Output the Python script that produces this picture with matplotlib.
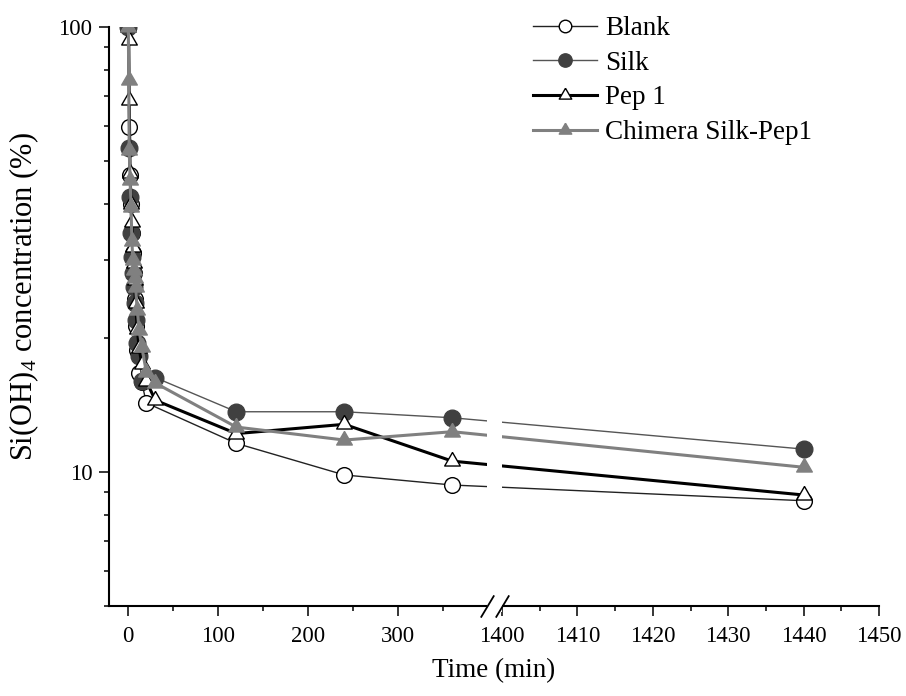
import numpy as np
import matplotlib
matplotlib.use("Agg")
import matplotlib.pyplot as plt
import matplotlib.transforms as mtransforms
from matplotlib.patches import Rectangle
from matplotlib.ticker import FixedLocator, FixedFormatter, NullFormatter

plt.rcParams['font.family'] = ['Liberation Serif', 'DejaVu Serif']
plt.rcParams['mathtext.default'] = 'regular'

# données (temps en min, concentration en %)
blank_t = [0, 1, 2, 3, 4, 5, 6, 7, 8, 10, 12, 15, 20, 120, 240, 360, 1440]
blank_v = [100, 59.5, 46.5, 40, 34.5, 31, 28, 24.5, 21.3, 18.8, 16.7, 15.9, 14.3,
           11.6, 9.85, 9.35, 8.62]

silk_t = [0, 1, 2, 3, 4, 5, 6, 7, 8, 10, 12, 15, 30, 120, 240, 360, 1440]
silk_v = [100, 53.5, 41.5, 34.4, 30.5, 28, 26, 24, 22, 19.5, 18.2, 16.0, 16.3,
          13.66, 13.66, 13.24, 11.26]

pep1_t = [0, 0.5, 1, 2, 3, 4, 5, 6, 7, 8, 10, 12, 15, 20, 30, 120, 240, 360, 1440]
pep1_v = [100, 93.5, 68.5, 47, 40, 36.5, 32, 29.5, 27, 24, 21, 19, 17.5, 16, 14.5,
          12.2, 12.8, 10.58, 8.88]

chim_t = [0, 0.5, 1, 2, 3, 4, 5, 6, 7, 8, 10, 12, 15, 20, 30, 120, 240, 360, 1440]
chim_v = [100, 76, 53, 45.3, 39.5, 33, 30, 28.4, 27.3, 26, 23.1, 20.8, 19.1, 16.8,
          15.85, 12.62, 11.8, 12.32, 10.25]

x_major = [0, 100, 200, 300, 1400, 1410, 1420, 1430, 1440, 1450]
x_minor = [50, 150, 250, 350, 1405, 1415, 1425, 1435, 1445]
y_major = [10, 100]
y_minor = [5, 6, 7, 8, 9, 20, 30, 40, 50, 60, 70, 80, 90]


# axe coupé : 0-400 min compressé, 1400-1450 min étiré
def forward(x):
    x = np.asarray(x, dtype=float)
    return np.where(x < 1000, 0.9 * x, 373.7 + 7.54 * (x - 1400))


def inverse(p):
    p = np.asarray(p, dtype=float)
    return np.where(p < 366, p / 0.9, 1400 + (p - 373.7) / 7.54)


fig = plt.figure(figsize=(9.06, 6.96), dpi=100)
ax = fig.add_axes([108.5 / 906, 1 - 606 / 696, (879 - 108.5) / 906, (606 - 27) / 696])
ax.set_xscale('function', functions=(forward, inverse))
ax.set_yscale('log')
ax.set_xlim(-22, 1450)
ax.set_ylim(5, 100)

tri = [(0, 1), (-0.866, -0.5), (0.866, -0.5), (0, 1)]

ax.plot(blank_t, blank_v, color='#222222', lw=1, marker='o', ms=11.3,
        mfc='white', mec='black', mew=1, label='Blank', zorder=3)
ax.plot(silk_t, silk_v, color='#555555', lw=1, marker='o', ms=12,
        mfc='#404040', mec='#404040', mew=1, label='Silk', zorder=3)
ax.plot(pep1_t, pep1_v, color='black', lw=2.2, marker=tri, ms=13,
        mfc='white', mec='black', mew=1, label='Pep 1', zorder=3)
ax.plot(chim_t, chim_v, color='#808080', lw=2.2, marker=tri, ms=13,
        mfc='#808080', mec='#808080', mew=1, label='Chimera Silk-Pep1', zorder=3)

# zone blanche de la coupure + marques //
trans = mtransforms.blended_transform_factory(ax.transData, ax.transAxes)
ax.add_patch(Rectangle((399.1, -0.01), 1400 - 399.1, 1.02, transform=trans,
                       facecolor='white', edgecolor='none', zorder=5, clip_on=False))
slash = [(-0.6, -1), (0.6, 1)]
ax.plot([399.1, 1400], [0, 0], transform=trans, marker=slash, ms=16,
        linestyle='none', color='black', mec='black', mew=1.3, clip_on=False, zorder=6)

for s in ['top', 'right']:
    ax.spines[s].set_visible(False)
for s in ['left', 'bottom']:
    ax.spines[s].set_linewidth(1.5)

ax.xaxis.set_major_locator(FixedLocator(x_major))
ax.xaxis.set_major_formatter(FixedFormatter([str(v) for v in x_major]))
ax.xaxis.set_minor_locator(FixedLocator(x_minor))
ax.xaxis.set_minor_formatter(NullFormatter())
ax.yaxis.set_major_locator(FixedLocator(y_major))
ax.yaxis.set_major_formatter(FixedFormatter([str(v) for v in y_major]))
ax.yaxis.set_minor_locator(FixedLocator(y_minor))
ax.yaxis.set_minor_formatter(NullFormatter())

ax.tick_params(which='major', direction='out', length=7.5, width=1.1, labelsize=16.5)
ax.tick_params(which='minor', direction='out', length=3.5, width=1.1)
ax.tick_params(axis='x', which='major', pad=7)
ax.tick_params(axis='y', which='major', pad=4)

ax.set_xlabel('Time (min)', fontsize=19.5, labelpad=8)
ax.set_ylabel('Si(OH)$_4$ concentration (%)', fontsize=22)
ax.yaxis.set_label_coords(-0.088, 0.534)

ax.legend(loc='upper left', bbox_to_anchor=(533 / 906, 1 - 16 / 696),
          bbox_transform=fig.transFigure, frameon=False, fontsize=19.5,
          handlelength=2.37, handletextpad=0.3, labelspacing=0.36,
          borderpad=0, borderaxespad=0, markerscale=0.8)

fig.savefig('out.png', dpi=100)
